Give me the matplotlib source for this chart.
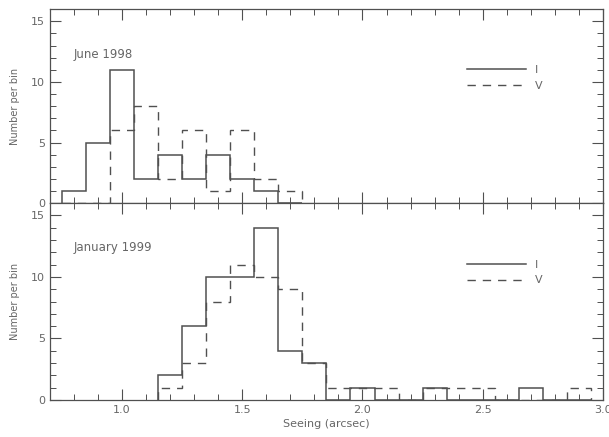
import numpy as np
import matplotlib
matplotlib.use("Agg")
import matplotlib.pyplot as plt
from matplotlib.ticker import MultipleLocator

# bin centres (bin width 0.1 arcsec)
june_centers = [0.8, 0.9, 1.0, 1.1, 1.2, 1.3, 1.4, 1.5, 1.6, 1.7]
june_I = [1, 5, 11, 2, 4, 2, 4, 2, 1, 0]
june_V = [0, 0, 6, 8, 2, 6, 1, 6, 2, 1]

jan_centers = [1.2, 1.3, 1.4, 1.5, 1.6, 1.7, 1.8, 1.9, 2.0,
               2.1, 2.2, 2.3, 2.4, 2.5, 2.6, 2.7, 2.8, 2.9]
jan_I = [2, 6, 10, 10, 14, 4, 3, 0, 1, 0, 0, 1, 0, 0, 0, 1, 0, 0]
jan_V = [1, 3, 8, 11, 10, 9, 3, 1, 1, 1, 0, 1, 1, 1, 0, 0, 0, 1]

panel_titles = ["June 1998", "January 1999"]

LINE = "#505050"
TXT = "#666666"
plt.rcParams['font.family'] = ['DejaVu Sans']

fig = plt.figure(figsize=(6.09, 4.37), dpi=100)
ax1 = fig.add_axes([0.082, 0.535, 0.908, 0.444])
ax2 = fig.add_axes([0.082, 0.085, 0.908, 0.450])


def edges_of(centers):
    c = np.asarray(centers)
    return np.append(c - 0.05, c[-1] + 0.05)


datasets = [(june_centers, june_I, june_V), (jan_centers, jan_I, jan_V)]

for ax, (cen, vi, vv), title, ty in zip([ax1, ax2], datasets, panel_titles, [0.765, 0.776]):
    e = edges_of(cen)
    ax.stairs(vv, e, baseline=0, color=LINE, lw=1.0, ls=(0, (6, 5)), label="V")
    ax.stairs(vi, e, baseline=0, color=LINE, lw=1.1, label="I")
    ax.set_xlim(0.7, 3.0)
    ax.set_ylim(0, 16)
    ax.xaxis.set_major_locator(MultipleLocator(0.5))
    ax.xaxis.set_minor_locator(MultipleLocator(0.1))
    ax.yaxis.set_major_locator(MultipleLocator(5))
    ax.yaxis.set_minor_locator(MultipleLocator(1))
    ax.tick_params(which="both", direction="in", top=True, right=True,
                   color=LINE, labelcolor=TXT, labelsize=8)
    ax.tick_params(which="major", length=8, width=0.8)
    ax.tick_params(which="minor", length=4, width=0.7)
    for s in ax.spines.values():
        s.set_color(LINE)
        s.set_linewidth(0.9)
    ax.set_ylabel("Number per bin", fontsize=7, color=TXT, labelpad=8)
    ax.text(0.043, ty, title, transform=ax.transAxes,
            fontsize=8.5, color=TXT, va="center")
    h, l = ax.get_legend_handles_labels()
    ax.legend(h[::-1], l[::-1], loc="upper left", bbox_to_anchor=(0.745, 0.74),
              frameon=False, handlelength=5.3, fontsize=8, labelspacing=0.5,
              labelcolor=TXT, borderpad=0, handletextpad=0.8)

ax1.tick_params(axis="x", labelbottom=False)
ax2.set_xlabel("Seeing (arcsec)", fontsize=8, color=TXT, labelpad=3)

fig.savefig("out.png", dpi=100)
